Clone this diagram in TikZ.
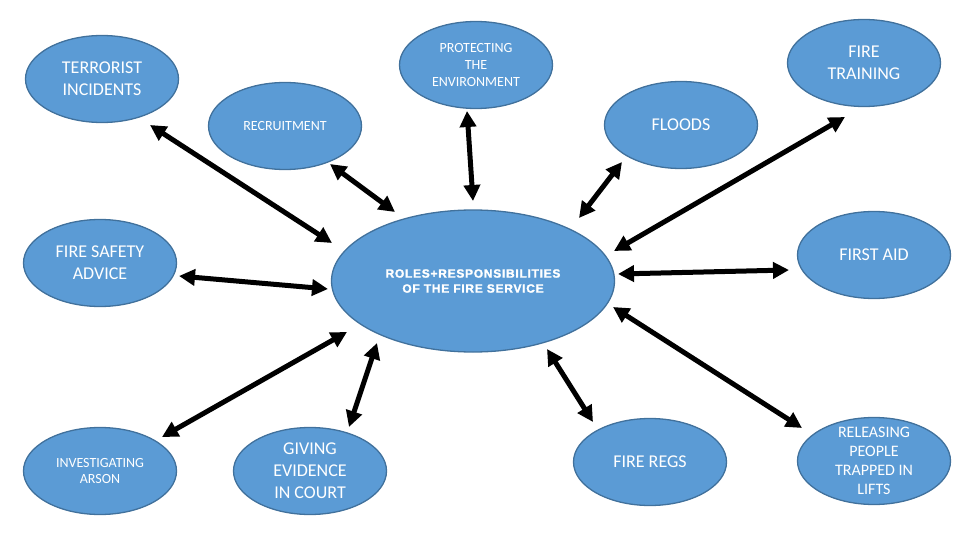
\documentclass[tikz,border=0pt]{standalone}
\usepackage{fontspec}
\setmainfont{Carlito}
\newfontfamily\hubfont[LetterSpace=6,FakeBold=1.5]{Liberation Sans Bold}
\usetikzlibrary{shapes.geometric,arrows.meta}
\definecolor{ovalblue}{RGB}{91,155,213}
\definecolor{ovaledge}{RGB}{65,113,156}

\begin{document}
\begin{tikzpicture}[
x=1pt, y=-1pt,
role/.style={
    draw=ovaledge,
    line width=1.3pt,
    fill=ovalblue,
    ellipse,
    inner sep=0pt,
    minimum width=153pt,
    minimum height=87pt,
    text=white,
    align=center,
    font=\fontsize{18}{22}\selectfont
},
smallrole/.style={role, font=\fontsize{14}{17}\selectfont},
link/.style={{Triangle[length=16pt,width=16pt]}-{Triangle[length=16pt,width=16pt]}, line width=5pt}
]
\useasboundingbox (0,0) rectangle (960,540);

\node[role] (terror) at (102,79) {TERRORIST\\INCIDENTS};
\node[smallrole] (protect) at (476,65) {PROTECTING\\THE\\ENVIRONMENT};
\node[role] (training) at (864,63) {FIRE\\TRAINING};
\node[smallrole] (recruit) at (285,126) {RECRUITMENT};
\node[role] (floods) at (681,125) {FLOODS};
\node[role, minimum width=283pt, minimum height=142pt,
      font=\hubfont\fontsize{12}{15}\selectfont] (hub) at (473,281)
      {ROLES+RESPONSIBILITIES\\OF THE FIRE SERVICE};
\node[role] (safety) at (100,263) {FIRE SAFETY\\ADVICE};
\node[role] (firstaid) at (874,255) {FIRST AID};
\node[smallrole] (arson) at (100,471) {INVESTIGATING\\ARSON};
\node[role] (court) at (310,471) {GIVING\\EVIDENCE\\IN COURT};
\node[role] (regs) at (650,462) {FIRE REGS};
\node[role, font=\fontsize{16}{19}\selectfont, inner ysep=-9pt] (lifts) at (874,461)
      {RELEASING\\PEOPLE\\TRAPPED IN\\LIFTS};

% arrow ends, they stop short of the ovals
\coordinate (terror-tip) at (150,125);
\coordinate (hub-terror) at (332,243);
\coordinate (recruit-tip) at (330,164);
\coordinate (hub-recruit) at (395,212);
\coordinate (protect-tip) at (467,111);
\coordinate (hub-protect) at (473,201);
\coordinate (floods-tip) at (622,162);
\coordinate (hub-floods) at (579,218);
\coordinate (training-tip) at (845,117);
\coordinate (hub-training) at (614,251);
\coordinate (safety-tip) at (179,276);
\coordinate (hub-safety) at (328,289);
\coordinate (firstaid-tip) at (789,270);
\coordinate (hub-firstaid) at (618,274);
\coordinate (arson-tip) at (162,437);
\coordinate (hub-arson) at (347,332);
\coordinate (court-tip) at (349,427);
\coordinate (hub-court) at (377,343);
\coordinate (regs-tip) at (593,422);
\coordinate (hub-regs) at (547,349);
\coordinate (lifts-tip) at (802,428);
\coordinate (hub-lifts) at (613,307);

\draw[link] (terror-tip) -- (hub-terror);
\draw[link] (recruit-tip) -- (hub-recruit);
\draw[link] (protect-tip) -- (hub-protect);
\draw[link] (floods-tip) -- (hub-floods);
\draw[link] (training-tip) -- (hub-training);
\draw[link] (safety-tip) -- (hub-safety);
\draw[link] (firstaid-tip) -- (hub-firstaid);
\draw[link] (arson-tip) -- (hub-arson);
\draw[link] (court-tip) -- (hub-court);
\draw[link] (regs-tip) -- (hub-regs);
\draw[link] (lifts-tip) -- (hub-lifts);

\end{tikzpicture}
\end{document}
